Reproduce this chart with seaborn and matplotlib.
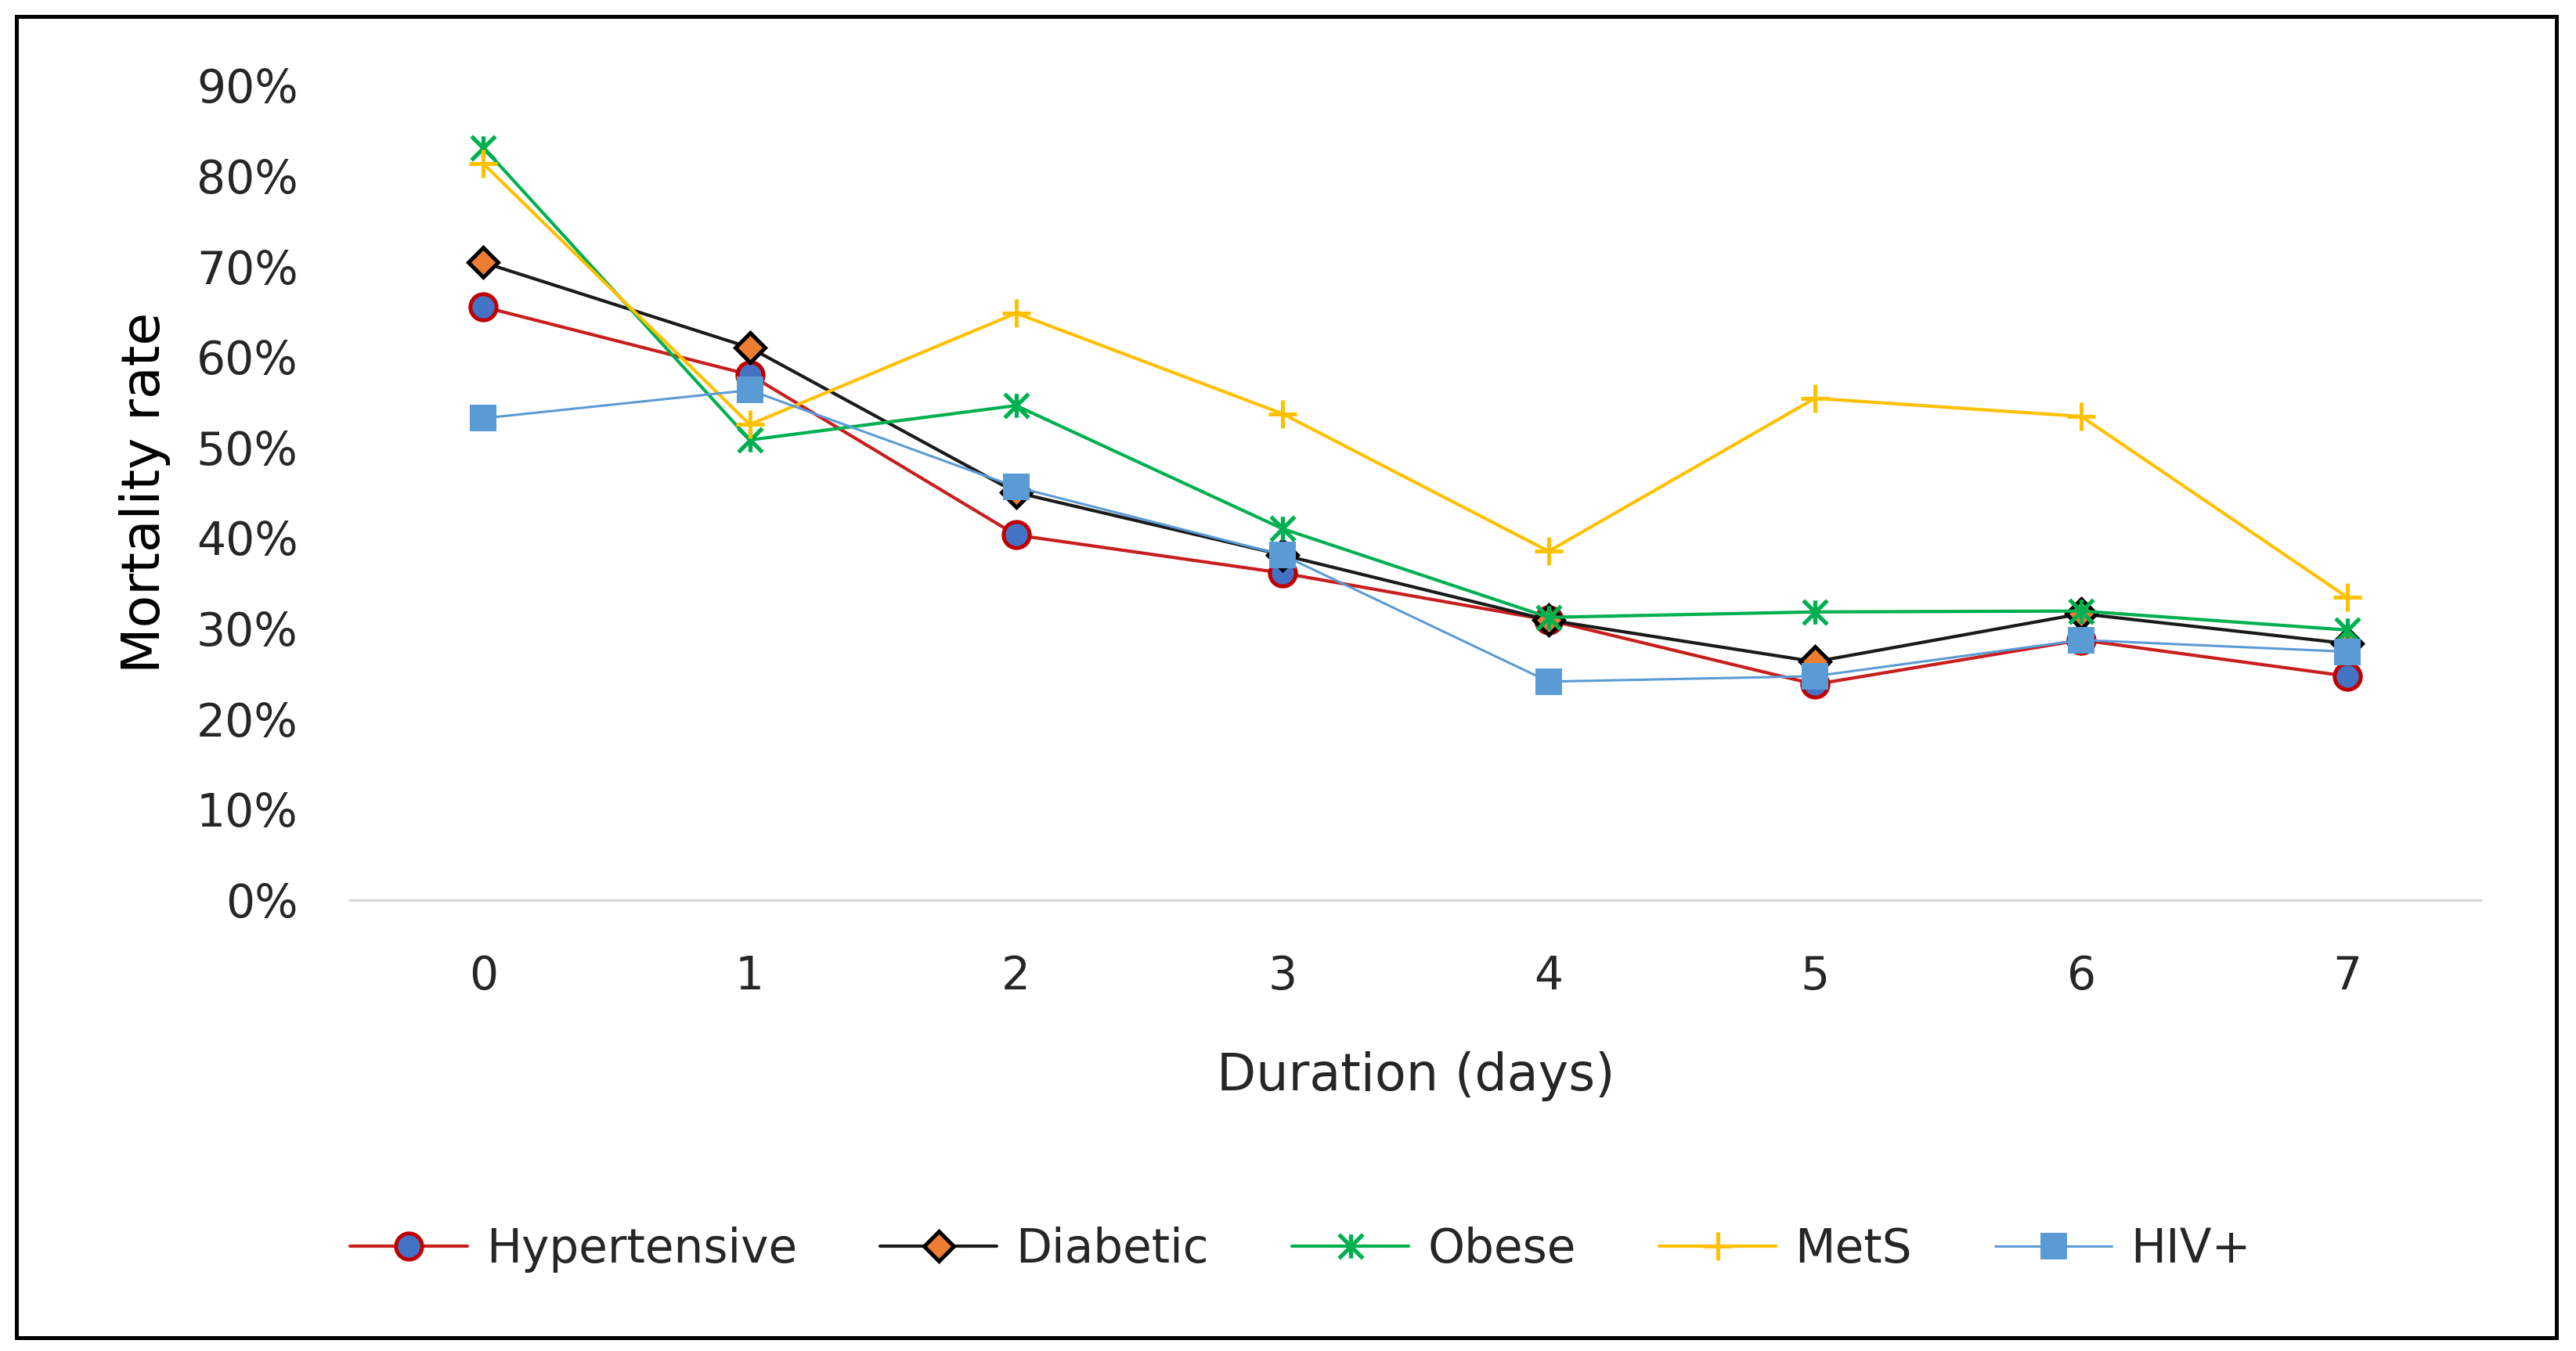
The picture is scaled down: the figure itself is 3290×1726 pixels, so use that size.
import numpy as np
import pandas as pd
import matplotlib
matplotlib.use("Agg")
import matplotlib.pyplot as plt
import seaborn as sns
from matplotlib.path import Path
from matplotlib.patches import Rectangle
from matplotlib.ticker import PercentFormatter

# ---- data ----
days = [0, 1, 2, 3, 4, 5, 6, 7]
hypertensive = [65.5, 58.0, 40.3, 36.1, 30.9, 23.8, 28.7, 24.7]
diabetic = [70.4, 61.0, 45.0, 38.1, 30.9, 26.3, 31.6, 28.3]
obese = [83.1, 50.8, 54.6, 41.0, 31.2, 31.8, 31.9, 29.8]
mets = [81.3, 52.5, 64.8, 53.7, 38.5, 55.4, 53.4, 33.4]
hiv = [53.2, 56.3, 45.6, 38.1, 24.1, 24.7, 28.7, 27.4]
series_names = ["Hypertensive", "Diabetic", "Obese", "MetS", "HIV+"]

sns.set_theme(style="white")
plt.rcParams["font.family"] = ["DejaVu Sans"]

fig = plt.figure(figsize=(16.45, 8.63), dpi=200)
ax = fig.add_axes([0.136, 0.334, 0.827, 0.603])

star = Path([(0, -1), (0, 1), (-1, -1), (1, 1), (-1, 1), (1, -1)],
            [Path.MOVETO, Path.LINETO, Path.MOVETO, Path.LINETO, Path.MOVETO, Path.LINETO])

styles = {
    "Hypertensive": dict(color="#C81E1E", lw=1.5, marker="o", ms=12, mfc="#4472C4", mec="#C00000", mew=1.8),
    "Diabetic": dict(color="#1a1a1a", lw=1.5, marker="D", ms=9.5, mfc="#ED7D31", mec="#000000", mew=1.8),
    "Obese": dict(color="#00B050", lw=1.5, marker=star, ms=11, mfc="none", mec="#00B050", mew=1.9),
    "MetS": dict(color="#FFC000", lw=1.5, marker="+", ms=13, mfc="none", mec="#FFC000", mew=1.8),
    "HIV+": dict(color="#5B9BD5", lw=1.1, marker="s", ms=12.5, mfc="#5B9BD5", mec="#5B9BD5", mew=0),
}
values = [hypertensive, diabetic, obese, mets, hiv]

for name, vals in zip(series_names, values):
    st = styles[name]
    sns.lineplot(x=days, y=vals, ax=ax, label=name, color=st["color"], linewidth=st["lw"],
                 marker=st["marker"], markersize=st["ms"], markerfacecolor=st["mfc"],
                 markeredgecolor=st["mec"], markeredgewidth=st["mew"])

ax.set_xlim(-0.5, 7.5)
ax.set_ylim(0, 90)
ax.set_yticks(np.arange(0, 91, 10))
ax.set_xticks(days)
ax.yaxis.set_major_formatter(PercentFormatter(xmax=100, decimals=0))
ax.tick_params(axis="both", length=0, labelsize=21, colors="#262626")
ax.tick_params(axis="y", pad=24)
ax.tick_params(axis="x", pad=25)
for s in ["top", "right", "left"]:
    ax.spines[s].set_visible(False)
ax.spines["bottom"].set_color("#D9D9D9")
ax.spines["bottom"].set_linewidth(1.2)
ax.grid(False)

ax.set_xlabel("Duration (days)", fontsize=23.5, color="#262626", labelpad=24)
ax.set_ylabel("Mortality rate", fontsize=24.5, color="#000000", labelpad=12)

ax.legend(loc="center left", bbox_to_anchor=(0.0, -0.429), ncol=5, frameon=False,
          fontsize=21.5, handlelength=2.5, handletextpad=0.4, columnspacing=1.78,
          borderpad=0, borderaxespad=0)

fig.patches.append(Rectangle((0.0064, 0.0097), 0.9859, 0.9783, transform=fig.transFigure,
                             fill=False, edgecolor="black", linewidth=1.8))

fig.savefig("out.png", dpi=200)
